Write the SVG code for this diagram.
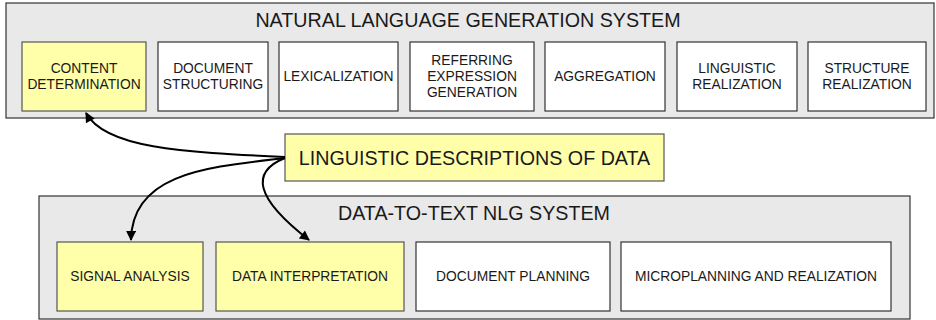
<svg xmlns="http://www.w3.org/2000/svg" width="936" height="320" viewBox="0 0 936 320">
<defs>
<style>
.cont{fill:#e9e9e9;stroke:#333;stroke-width:1.2}
.box{fill:#fff;stroke:#333;stroke-width:1.2}
.hl{fill:#ffffaa;stroke:#555;stroke-width:1.2}
text{font-family:"Liberation Sans",Arial,sans-serif;fill:#1a1a1a;text-anchor:middle}
.t{font-size:13.8px}
.big{font-size:19.7px}
.conn{fill:none;stroke:#000;stroke-width:2}
</style>
<marker id="ah" viewBox="0 0 10 10" refX="9" refY="5" markerWidth="6" markerHeight="5" orient="auto" markerUnits="strokeWidth">
<path d="M0,0 L10,5 L0,10 z" fill="#000"/>
</marker>
</defs>
<g id="nlg-system">
<rect class="cont" x="6" y="3" width="928" height="115"/>
<text class="big" x="468" y="27">NATURAL LANGUAGE GENERATION SYSTEM</text>
</g>
<g id="content-determination">
<rect class="hl" x="22" y="42" width="124" height="69"/>
<text class="t" x="84" y="73">CONTENT</text>
<text class="t" x="84" y="89">DETERMINATION</text>
</g>
<g id="document-structuring">
<rect class="box" x="158" y="42" width="110" height="69"/>
<text class="t" x="213" y="73">DOCUMENT</text>
<text class="t" x="213" y="89">STRUCTURING</text>
</g>
<g id="lexicalization">
<rect class="box" x="279" y="42" width="119" height="69"/>
<text class="t" x="338.5" y="81">LEXICALIZATION</text>
</g>
<g id="referring-expression-generation">
<rect class="box" x="410" y="42" width="124" height="69"/>
<text class="t" x="472" y="65">REFERRING</text>
<text class="t" x="472" y="81">EXPRESSION</text>
<text class="t" x="472" y="97">GENERATION</text>
</g>
<g id="aggregation">
<rect class="box" x="545" y="42" width="120" height="69"/>
<text class="t" x="605" y="81">AGGREGATION</text>
</g>
<g id="linguistic-realization">
<rect class="box" x="677" y="42" width="120" height="69"/>
<text class="t" x="737" y="73">LINGUISTIC</text>
<text class="t" x="737" y="89">REALIZATION</text>
</g>
<g id="structure-realization">
<rect class="box" x="808" y="42" width="118" height="69"/>
<text class="t" x="867" y="73">STRUCTURE</text>
<text class="t" x="867" y="89">REALIZATION</text>
</g>
<g id="linguistic-descriptions">
<rect class="hl" x="285" y="134" width="379" height="47"/>
<text class="big" x="474.5" y="165">LINGUISTIC DESCRIPTIONS OF DATA</text>
</g>
<g id="d2t-system">
<rect class="cont" x="39" y="196" width="871" height="123"/>
<text class="big" x="474" y="220">DATA-TO-TEXT NLG SYSTEM</text>
</g>
<g id="signal-analysis">
<rect class="hl" x="57" y="242" width="146" height="69"/>
<text class="t" x="130" y="281">SIGNAL ANALYSIS</text>
</g>
<g id="data-interpretation">
<rect class="hl" x="216" y="242" width="188" height="69"/>
<text class="t" x="310" y="281">DATA INTERPRETATION</text>
</g>
<g id="document-planning">
<rect class="box" x="416" y="242" width="194" height="69"/>
<text class="t" x="513" y="281">DOCUMENT PLANNING</text>
</g>
<g id="microplanning">
<rect class="box" x="621" y="242" width="270" height="69"/>
<text class="t" x="756" y="281">MICROPLANNING AND REALIZATION</text>
</g>
<g id="connectors">
<path class="conn" marker-end="url(#ah)" d="M285,157 C180,152 105,148 86,113"/>
<path class="conn" marker-end="url(#ah)" d="M285,158 C210,167 132,172 131,240"/>
<path class="conn" marker-end="url(#ah)" d="M285,158 C250,172 255,198 309,240"/>
</g>
</svg>
